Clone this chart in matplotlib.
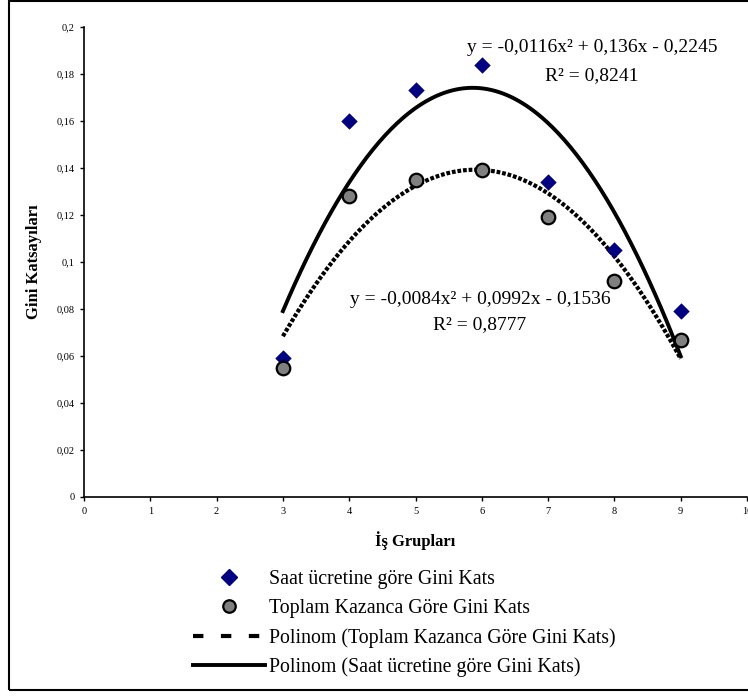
import matplotlib
matplotlib.use("Agg")
import matplotlib.pyplot as plt
import numpy as np
from matplotlib.lines import Line2D
from matplotlib.patches import Rectangle

plt.rcParams['font.family'] = ['Liberation Serif', 'DejaVu Serif']

groups = [3, 4, 5, 6, 7, 8, 9]
saat = [0.059, 0.160, 0.173, 0.184, 0.134, 0.105, 0.079]
toplam = [0.055, 0.128, 0.135, 0.139, 0.119, 0.092, 0.067]
coef_saat = [-0.0116, 0.136, -0.2245]
coef_toplam = [-0.0084, 0.0992, -0.1536]
r2_saat = 0.8241
r2_toplam = 0.8777
label_saat = "Saat ücretine göre Gini Kats"
label_toplam = "Toplam Kazanca Göre Gini Kats"
xticks = list(range(0, 11))
yticks = [0, 0.02, 0.04, 0.06, 0.08, 0.1, 0.12, 0.14, 0.16, 0.18, 0.2]

W, H = 748, 697
fig = plt.figure(figsize=(W/100, H/100), dpi=100)
ax = fig.add_axes([84/W, 1-497/H, (747-84)/W, (497-27)/H])

xs = np.linspace(min(groups), max(groups), 200)
ax.plot(xs, np.polyval(coef_toplam, xs), color='black', lw=3.0,
        linestyle=(0, (0.9, 0.45)), solid_capstyle='butt', zorder=2)
ax.plot(xs, np.polyval(coef_saat, xs), color='black', lw=2.8, zorder=2)
ax.scatter(groups, saat, marker='D', s=70, color='#000080', zorder=3, linewidths=0)
ax.scatter(groups, toplam, marker='o', s=95, facecolor='#808080',
           edgecolor='black', linewidths=1.6, zorder=4)

ax.set_xlim(0, 10)
ax.set_ylim(0, 0.2)
ax.set_xticks(xticks)
ax.set_xticklabels([str(t) for t in xticks])
ax.set_yticks(yticks)
ax.set_yticklabels([('%g' % t).replace('.', ',') for t in yticks])
ax.tick_params(labelsize=7.5, length=3, width=1, direction='out', pad=4)
for s in ['top', 'right']:
    ax.spines[s].set_visible(False)
for s in ['left', 'bottom']:
    ax.spines[s].set_linewidth(1.2)

ax.set_xlabel("İş Grupları", fontsize=12, fontweight='bold', labelpad=11)
ax.set_ylabel("Gini Katsayıları", fontsize=12, fontweight='bold', labelpad=10)

def fmt(v):
    return ('%g' % abs(v)).replace('.', ',')

def eq(c):
    a, b, k = c
    sa = '-' if a < 0 else ''
    sb = '-' if b < 0 else '+'
    sk = '-' if k < 0 else '+'
    return f"y = {sa}{fmt(a)}x² {sb} {fmt(b)}x {sk} {fmt(k)}"

fs_eq = 14
fig.text(592/W, 1-48/H, eq(coef_saat), fontsize=fs_eq, ha='center', va='center')
fig.text(592/W, 1-76/H, f"R² = {fmt(r2_saat)}", fontsize=fs_eq, ha='center', va='center')
fig.text(480/W, 1-299/H, eq(coef_toplam), fontsize=fs_eq, ha='center', va='center')
fig.text(480/W, 1-325/H, f"R² = {fmt(r2_toplam)}", fontsize=fs_eq, ha='center', va='center')

handles = [
    Line2D([], [], marker='D', color='#000080', linestyle='none', markersize=8),
    Line2D([], [], marker='o', markerfacecolor='#808080', markeredgecolor='black',
           markeredgewidth=1.6, linestyle='none', markersize=9),
    Line2D([], [], color='black', lw=3, linestyle=(0, (2.5, 4.2))),
    Line2D([], [], color='black', lw=2.8),
]
labels = [label_saat, label_toplam,
          f"Polinom ({label_toplam})", f"Polinom ({label_saat})"]
fig.legend(handles, labels, loc='upper left', bbox_to_anchor=(193/W, 1-570/H),
           frameon=False, fontsize=14.3, handlelength=3.6, handletextpad=0.25,
           labelspacing=0.5, borderaxespad=0, borderpad=0)

fig.patches.append(Rectangle((9/W, 1-690/H), (W+20)/W, 689/H, transform=fig.transFigure,
                             fill=False, edgecolor='black', lw=1.5))

fig.savefig("out.png", dpi=100)
